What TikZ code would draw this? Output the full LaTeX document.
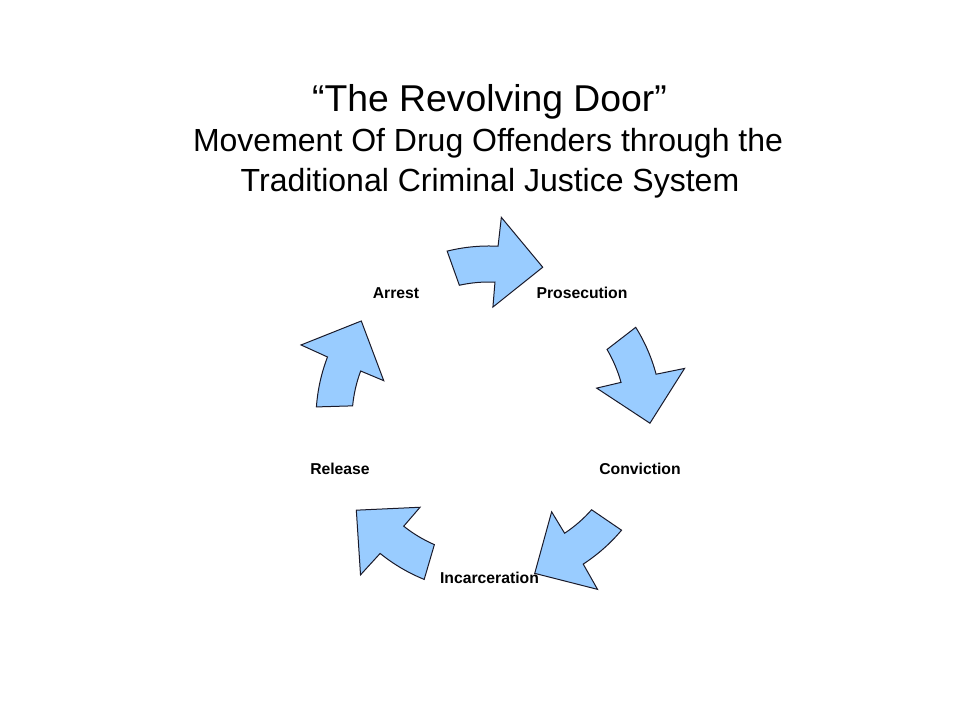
\documentclass[tikz,border=0pt]{standalone}
\usepackage{fontspec}
\setmainfont{Liberation Sans}
\definecolor{arrowblue}{HTML}{99CCFF}
\definecolor{arrowline}{HTML}{1A1A2A}
\def\cyclearrow[#1](#2){\draw[#1,rotate=#2] (104:173) arc (104:87:173) -- (86.5:202) -- (70.5:161) -- (88:112) -- (87.5:137) arc (87.5:102.5:137) -- cycle;}

\begin{document}
\begin{tikzpicture}[x=0.75pt, y=0.75pt]
			%%%%% START %%%%%
			\useasboundingbox (0, 0) rectangle (960, 720);
			
			\node[anchor=base, font=\fontsize{28}{34}\selectfont] (title1) at (489.5, 608) {“The Revolving Door”};
			\node[anchor=base, font=\fontsize{24}{29}\selectfont] (title2) at (488, 568) {Movement Of Drug Offenders through the};
			\node[anchor=base, font=\fontsize{24}{29}\selectfont] (title3) at (490, 528) {Traditional Criminal Justice System};
			
			\begin{scope}[shift={(489, 301)}]
				\cyclearrow[fill=arrowblue, draw=arrowline, line width=0.75pt](0);
				\cyclearrow[fill=arrowblue, draw=arrowline, line width=0.75pt](-72);
				\cyclearrow[fill=arrowblue, draw=arrowline, line width=0.75pt](-144);
				\cyclearrow[fill=arrowblue, draw=arrowline, line width=0.75pt](-216);
				\cyclearrow[fill=arrowblue, draw=arrowline, line width=0.75pt](-288);
			\end{scope}
			
			\node[anchor=base, font=\bfseries\fontsize{11.8}{14}\selectfont] (arrest) at (396, 421.5) {Arrest};
			\node[anchor=base, font=\bfseries\fontsize{11.8}{14}\selectfont] (prosecution) at (582, 421.5) {Prosecution};
			\node[anchor=base, font=\bfseries\fontsize{11.8}{14}\selectfont] (conviction) at (640, 245.5) {Conviction};
			\node[anchor=base, font=\bfseries\fontsize{11.8}{14}\selectfont] (incarceration) at (489.5, 136.5) {Incarceration};
			\node[anchor=base, font=\bfseries\fontsize{11.8}{14}\selectfont] (release) at (340, 245.5) {Release};
			
			%%%%% END %%%%%
		\end{tikzpicture}
\end{document}
